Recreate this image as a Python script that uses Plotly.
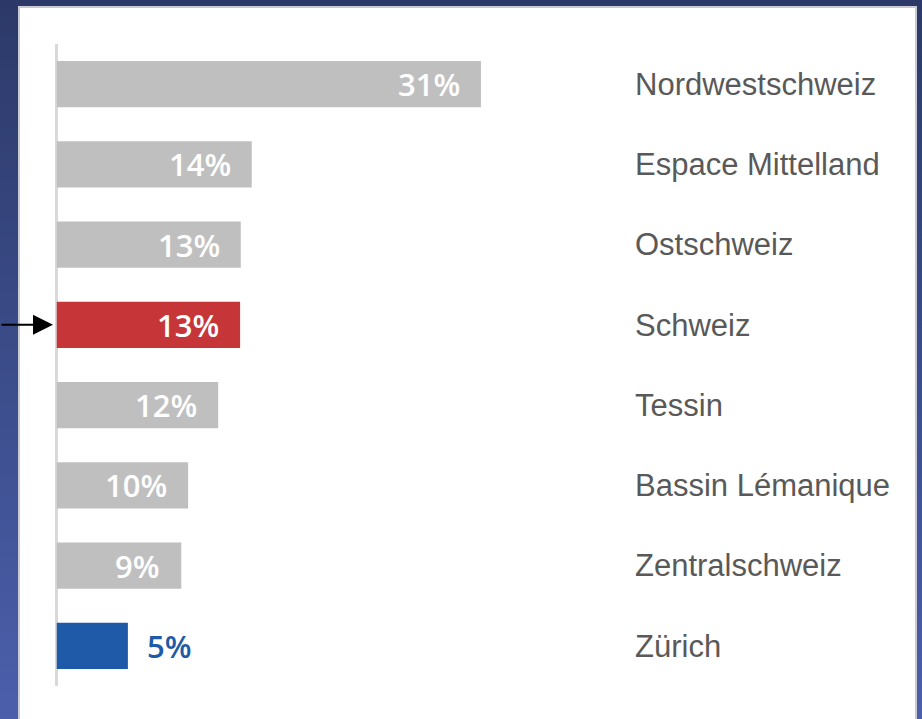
import base64
import plotly.graph_objects as go

# ---- data ----
categories = ["Nordwestschweiz", "Espace Mittelland", "Ostschweiz", "Schweiz",
              "Tessin", "Bassin Lémanique", "Zentralschweiz", "Zürich"]
values = [31.0, 14.25, 13.45, 13.4, 11.8, 9.6, 9.1, 5.2]
highlight = "Schweiz"
lowest = "Zürich"

W, H = 922, 719
GRAY, RED, BLUE = "#bfbfbf", "#c63638", "#1f5aa8"
FONT = "Liberation Sans"
VFONT = "Open Sans"

colors = [RED if c == highlight else (BLUE if c == lowest else GRAY) for c in categories]

fig = go.Figure(go.Bar(
    x=values, y=categories, orientation="h",
    marker=dict(color=colors, line=dict(width=0)),
    hoverinfo="skip",
))

# value labels
for c, v in zip(categories, values):
    txt = f"{v:.0f}%"
    if c == lowest:
        fig.add_annotation(x=v, y=c, text=txt, showarrow=False, xanchor="left",
                           xshift=17, font=dict(family=VFONT, size=31, color=BLUE, weight=600))
    else:
        fig.add_annotation(x=v, y=c, text=txt, showarrow=False, xanchor="right",
                           xshift=-19, font=dict(family=VFONT, size=31, color="white", weight=600))

# arrow pointing to Schweiz
fig.add_annotation(xref="paper", x=53 / W, y=highlight, yref="y", text="", showarrow=True,
                   ax=-56, ay=0, axref="pixel", ayref="pixel", arrowhead=2, arrowsize=2.0,
                   arrowwidth=2, arrowcolor="black")

# gradient background
svg = ('<svg xmlns="http://www.w3.org/2000/svg" width="922" height="719" preserveAspectRatio="none">'
       '<defs><linearGradient id="g" x1="0" y1="0" x2="0" y2="1">'
       '<stop offset="0" stop-color="#2c3968"/><stop offset="1" stop-color="#4b5fab"/>'
       '</linearGradient></defs><rect width="100%" height="100%" fill="url(#g)"/></svg>')
uri = "data:image/svg+xml;base64," + base64.b64encode(svg.encode()).decode()
fig.add_layout_image(source=uri, xref="paper", yref="paper", x=0, y=1, sizex=1, sizey=1,
                     xanchor="left", yanchor="top", sizing="stretch", layer="below")

# white panel
fig.add_shape(type="rect", xref="paper", yref="paper", x0=19 / W, x1=916 / W,
              y0=-0.05, y1=1 - 7 / H, fillcolor="white",
              line=dict(color="#c9cad4", width=2), layer="below")

L, R, T, B = 54, 626, 44, 686
fig.update_layout(
    width=W, height=H, autosize=False,
    margin=dict(l=0, r=0, t=0, b=0),
    paper_bgcolor="#3b4b88", plot_bgcolor="rgba(0,0,0,0)",
    bargap=0.425, showlegend=False,
    xaxis=dict(domain=[L / W, R / W], range=[-0.2, 41.6], showgrid=False,
               showticklabels=False, zeroline=True, zerolinecolor="#d9d9d9",
               zerolinewidth=2.5, fixedrange=True),
    yaxis=dict(domain=[1 - B / H, 1 - T / H], range=[7.5, -0.5], side="right",
               showgrid=False, zeroline=False, ticks="", ticklabelstandoff=8,
               tickfont=dict(family=FONT, size=31, color="#595959"),
               fixedrange=True),
)

fig.write_html("out.html", config={"displayModeBar": False},
               post_script="document.body.style.margin='0';document.body.style.overflow='hidden';")
